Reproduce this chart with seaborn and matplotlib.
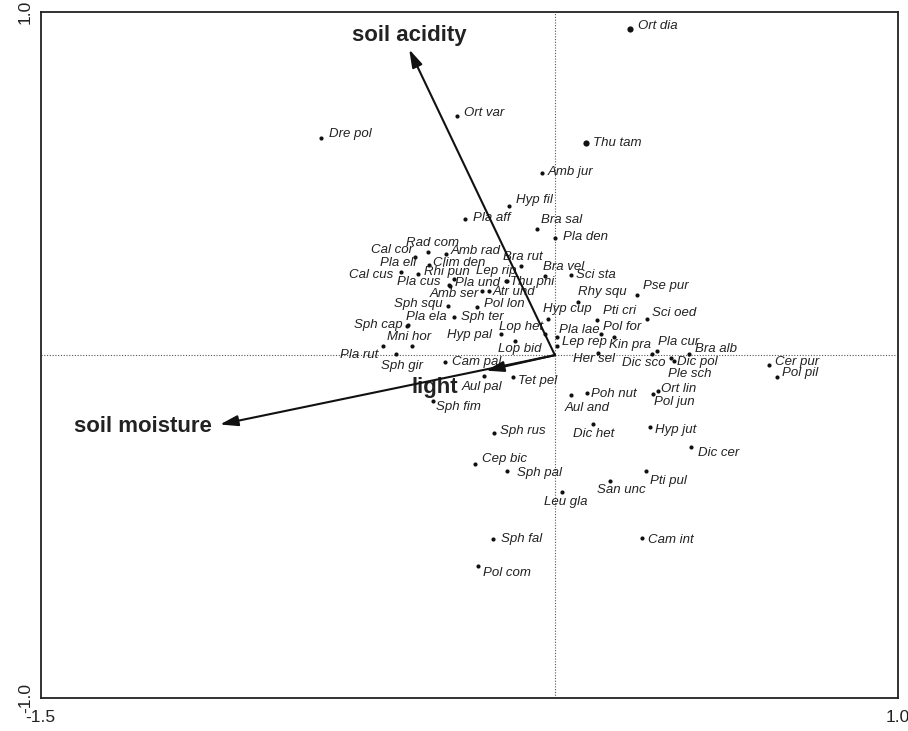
import pandas as pd
import matplotlib.pyplot as plt
import seaborn as sns

# species scores on the first two ordination axes
species = [
    'Ort dia', 'Ort var', 'Dre pol', 'Thu tam', 'Amb jur', 'Hyp fil', 'Pla aff',
    'Bra sal', 'Pla den', 'Cal cor', 'Rad com', 'Amb rad', 'Clim den', 'Pla eli',
    'Cal cus', 'Rhi pun', 'Pla cus', 'Pla und', 'Bra rut', 'Lep rip', 'Thu phi',
    'Bra vel', 'Sci sta', 'Amb ser', 'Atr und', 'Sph squ', 'Pol lon', 'Sph ter',
    'Sph cap', 'Pla ela', 'Hyp pal', 'Lop het', 'Lop bid', 'Mni hor', 'Sph gir',
    'Pla rut', 'Hyp cup', 'Pla lae', 'Lep rep', 'Pse pur', 'Rhy squ', 'Sci oed',
    'Pti cri', 'Pol for', 'Kin pra', 'Her sel', 'Dic sco', 'Pla cur', 'Dic pol',
    'Ple sch', 'Bra alb', 'Cer pur', 'Pol pil', 'Ort lin', 'Pol jun', 'Hyp jut',
    'Dic cer', 'Aul and', 'Poh nut', 'Dic het', 'Sph rus', 'Cep bic', 'Sph pal',
    'Leu gla', 'San unc', 'Pti pul', 'Sph fal', 'Pol com', 'Cam int', 'Sph fim',
    'Cam pal', 'Aul pal', 'Tet pel',
]
axis1 = [
    0.219, -0.285, -0.681, 0.090, -0.038, -0.133, -0.263,
    -0.053, -0.001, -0.408, -0.370, -0.319, -0.368, -0.399,
    -0.450, -0.294, -0.309, -0.305, -0.099, -0.144, -0.141,
    -0.030, 0.047, -0.214, -0.192, -0.313, -0.228, -0.295,
    -0.431, -0.429, -0.157, -0.029, -0.117, -0.501, -0.416,
    -0.465, -0.020, 0.007, 0.007, 0.238, 0.068, 0.269,
    0.122, 0.135, 0.172, 0.125, 0.284, 0.297, 0.346,
    0.338, 0.390, 0.625, 0.647, 0.301, 0.287, 0.277,
    0.396, 0.047, 0.095, 0.112, -0.178, -0.233, -0.139,
    0.022, 0.160, 0.265, -0.180, -0.225, 0.253, -0.357,
    -0.320, -0.206, -0.123,
]
axis2 = [
    0.950, 0.696, 0.633, 0.619, 0.531, 0.434, 0.397,
    0.368, 0.341, 0.285, 0.301, 0.294, 0.264, 0.236,
    0.242, 0.221, 0.204, 0.202, 0.260, 0.217, 0.216,
    0.232, 0.233, 0.187, 0.187, 0.143, 0.141, 0.112,
    0.085, 0.087, 0.063, 0.063, 0.042, 0.027, 0.027,
    0.002, 0.105, 0.052, 0.026, 0.176, 0.154, 0.106,
    0.101, 0.063, 0.053, 0.006, 0.002, 0.013, -0.017,
    -0.007, 0.003, -0.029, -0.063, -0.105, -0.112, -0.209,
    -0.267, -0.117, -0.110, -0.202, -0.228, -0.317, -0.337,
    -0.400, -0.366, -0.337, -0.537, -0.614, -0.534, -0.134,
    -0.021, -0.061, -0.063,
]

# environmental variable arrows
env_names = ['soil acidity', 'soil moisture', 'light']
env_x = [-0.425, -0.977, -0.201]
env_y = [0.891, -0.202, -0.045]

# layout: label offsets in pixels (dx right, dy up), left-aligned text
label_offsets = {
    'Ort dia': (8, 3), 'Ort var': (7, 3), 'Dre pol': (8, 4), 'Thu tam': (7, 0),
    'Amb jur': (6, 1), 'Hyp fil': (7, 6), 'Pla aff': (8, 1), 'Bra sal': (4, 9),
    'Pla den': (8, 1), 'Cal cor': (-44, 7), 'Rad com': (-22, 9), 'Amb rad': (5, 3),
    'Clim den': (4, 2), 'Pla eli': (-38, 11), 'Cal cus': (-52, -3), 'Rhi pun': (-30, 7),
    'Pla cus': (-52, 3), 'Pla und': (4.5, 2.5), 'Bra rut': (-18, 9), 'Lep rip': (-30, 9.5),
    'Thu phi': (3, -1), 'Bra vel': (-2, 9), 'Sci sta': (5, 0), 'Amb ser': (-52, -3),
    'Atr und': (3.5, -1), 'Sph squ': (-54, 2), 'Pol lon': (7, 3), 'Sph ter': (7, 0),
    'Sph cap': (-53, 1), 'Pla ela': (-2, 8), 'Hyp pal': (-54, -1), 'Lop het': (-46, 7),
    'Lop bid': (-17, -8), 'Mni hor': (4, 9), 'Sph gir': (-31, -20), 'Pla rut': (-56, -1),
    'Hyp cup': (-5, 10), 'Pla lae': (2, 7), 'Lep rep': (4.4, 4.3), 'Pse pur': (6, 9),
    'Rhy squ': (0, 10), 'Sci oed': (5, 6), 'Pti cri': (6, 9), 'Pol for': (2, 7),
    'Kin pra': (-5, -8), 'Her sel': (-25, -6), 'Dic sco': (-30, -9), 'Pla cur': (1, 9),
    'Dic pol': (3, -1), 'Ple sch': (-3, -16), 'Bra alb': (6, 5), 'Cer pur': (6, 3),
    'Pol pil': (5, 4), 'Ort lin': (2.5, 2), 'Pol jun': (0.7, -8.4), 'Hyp jut': (5, -3),
    'Dic cer': (7.6, -6.6), 'Aul and': (-6, -13), 'Poh nut': (4, -0.6), 'Dic het': (-20, -10),
    'Sph rus': (6, 2.6), 'Cep bic': (6.7, 5.4), 'Sph pal': (9.4, -2.6), 'Leu gla': (-18.4, -9.4),
    'San unc': (-12.3, -9.3), 'Pti pul': (4, -10.3), 'Sph fal': (7.4, 0), 'Pol com': (5.6, -7.6),
    'Cam int': (6.6, -1.7), 'Sph fim': (3.3, -5.7), 'Cam pal': (6.4, 0), 'Aul pal': (-22.6, -11.3),
    'Tet pel': (5.3, -4),
}
large_dots = ['Ort dia', 'Thu tam']
env_label_layout = {
    'soil acidity': ((0, 14), 'center'),
    'soil moisture': ((-8, -2), 'right'),
    'light': ((-51, -17), 'center'),
}

sns.set_style('white')
plt.rcParams['font.family'] = ['Liberation Sans', 'DejaVu Sans']

df = pd.DataFrame({'species': species, 'axis1': axis1, 'axis2': axis2})
df['large'] = df['species'].isin(large_dots)

fig = plt.figure(figsize=(9.08, 7.31), dpi=100)
ax = fig.add_axes([0.0448, 0.0447, 0.9439, 0.9389])

# dotted zero lines
ax.axhline(0, color='#555555', lw=0.8, ls=(0, (1, 1.5)), zorder=1)
ax.axvline(0, color='#555555', lw=0.8, ls=(0, (1, 1.5)), zorder=1)

sns.scatterplot(data=df[~df['large']], x='axis1', y='axis2', ax=ax,
                color='#111111', s=9, linewidth=0, zorder=3, legend=False)
sns.scatterplot(data=df[df['large']], x='axis1', y='axis2', ax=ax,
                color='#111111', s=20, linewidth=0, zorder=3, legend=False)

for name, x, y in zip(species, axis1, axis2):
    dx, dy = label_offsets.get(name, (6, 0))
    ax.annotate(name, (x, y), xytext=(dx, dy), textcoords='offset pixels',
                ha='left', va='center', fontsize=9.5, style='italic', color='#222222')

# environmental arrows from the origin
for name, x, y in zip(env_names, env_x, env_y):
    ax.annotate('', xy=(x, y), xytext=(0, 0),
                arrowprops=dict(arrowstyle='-|>,head_length=0.9,head_width=0.27',
                                mutation_scale=12, lw=1.5, color='#111111',
                                shrinkA=0, shrinkB=0), zorder=4)
    (ox, oy), ha = env_label_layout[name]
    ax.annotate(name, (x, y), xytext=(ox, oy), textcoords='offset pixels',
                ha=ha, va='center', fontsize=16, fontweight='bold', color='#222222')

ax.set_xlim(-1.5, 1.0)
ax.set_ylim(-1.0, 1.0)
ax.set_xticks([-1.5, -1.0, -0.5, 0.0, 0.5, 1.0])
ax.set_xticklabels(['-1.5', '', '', '', '', '1.0'], fontsize=12.5)
ax.set_yticks([-1.0, -0.5, 0.0, 0.5, 1.0])
ax.set_yticklabels(['-1.0', '', '', '', '1.0'], fontsize=12.5, rotation=90, va='center')
ax.tick_params(direction='inout', length=7, width=1.1, color='#222222',
               labelcolor='#222222')
ax.tick_params(axis='x', pad=5)
ax.tick_params(axis='y', pad=2)
ax.set_xlabel('')
ax.set_ylabel('')
for sp in ax.spines.values():
    sp.set_linewidth(1.3)
    sp.set_color('#222222')

fig.savefig('out.png', dpi=100)
